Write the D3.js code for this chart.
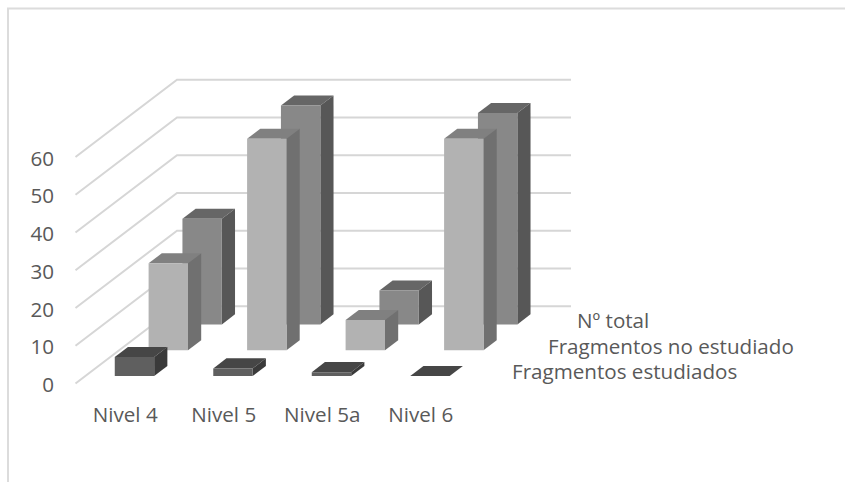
<!DOCTYPE html>
<html>
<head>
<meta charset="utf-8">
<script src="https://cdnjs.cloudflare.com/ajax/libs/d3/7.8.5/d3.min.js"></script>
<style>
html,body{margin:0;padding:0;background:#fff}
svg{display:block}
text{font-family:"Open Sans",sans-serif;fill:#595959}
</style>
</head>
<body>
<svg id="chart" width="845" height="482"></svg>
<script>
// Bar values by level, one list per series
const categories = ["Nivel 4", "Nivel 5", "Nivel 5a", "Nivel 6"];
const seriesNames = ["Fragmentos estudiados", "Fragmentos no estudiado", "Nº total"];
const estudiados = [5, 2, 1, 0];
const noEstudiados = [23, 56, 8, 56];
const total = [28, 58, 9, 56];
const valueTicks = [0, 10, 20, 30, 40, 50, 60];

const seriesValues = [estudiados, noEstudiados, total];
// front, top, side shades of each series
const seriesShades = [
  ["#5f5f5f", "#464646", "#3a3a3a"],
  ["#b2b2b2", "#808080", "#707070"],
  ["#888888", "#666666", "#575757"]
];
const labelSize = 20.6;

const svg = d3.select("#chart");

// chart frame: only top and left edges are in view
svg.append("path").attr("d", "M8,482V8.5H845")
  .attr("fill", "none").attr("stroke", "#dcdcdc").attr("stroke-width", 2);

// oblique projection: x along categories, y up the wall, depth back from the front edge
const floorX0 = 75.5, floorWidth = 394, floorY = 383.5;
const depthX = 101.5, depthY = -77.3;
const x = d3.scaleBand().domain(categories).range([floorX0, floorX0 + floorWidth]);
const y = d3.scaleLinear().domain([0, 60]).range([floorY, floorY - 226.5]);
const depth = d3.scaleBand().domain(seriesNames).range([0, 1]);

const barWidth = x.bandwidth() * 0.4;
const barDepth = depth.bandwidth() * 0.39;
const project = (px, py, d) => [px + d * depthX, py + d * depthY];
const poly = pts => "M" + pts.map(p => p.join(",")).join("L") + "Z";

// gridlines run across the floor side, then along the back wall
const grid = svg.append("g").attr("fill", "none").attr("stroke", "#d6d6d6").attr("stroke-width", 2);
valueTicks.forEach(t => {
  const a = project(floorX0, y(t), 0), b = project(floorX0, y(t), 1), c = project(floorX0 + floorWidth, y(t), 1);
  grid.append("path").attr("d", "M" + [a, b, c].map(p => p.join(",")).join("L"));
});

// value axis labels
svg.append("g").selectAll("text").data(valueTicks).join("text")
  .attr("x", 54).attr("y", d => y(d))
  .attr("dy", "0.42em").attr("text-anchor", "end")
  .attr("font-size", labelSize).text(d => d);

// back series first so nearer bars overlap it
const seriesOrder = d3.range(seriesNames.length).reverse();
seriesOrder.forEach(s => {
  const g = svg.append("g").attr("transform", "translate(-0.6,0.3)");
  const d0 = depth(seriesNames[s]) + (depth.bandwidth() - barDepth) / 2;
  const d1 = d0 + barDepth;
  categories.forEach((c, i) => {
    const v = seriesValues[s][i];
    const xl = x(c) + x.bandwidth() * 0.3, xr = xl + barWidth;
    const yb = y(0), yt = y(v);
    const [front, top, side] = seriesShades[s];
    g.append("path").attr("fill", top).attr("d", poly([
      project(xl, yt, d0), project(xr, yt, d0), project(xr, yt, d1), project(xl, yt, d1)]));
    g.append("path").attr("fill", side).attr("d", poly([
      project(xr, yb, d0), project(xr, yt, d0), project(xr, yt, d1), project(xr, yb, d1)]));
    g.append("path").attr("fill", front).attr("d", poly([
      project(xl, yb, d0), project(xr, yb, d0), project(xr, yt, d0), project(xl, yt, d0)]));
  });
});

// category labels under the front edge
svg.append("g").selectAll("text").data(categories).join("text")
  .attr("x", d => x(d) + x.bandwidth() / 2 + 0.5)
  .attr("y", 422).attr("text-anchor", "middle")
  .attr("font-size", labelSize).text(d => d);

// series names follow the depth axis on the right
const seriesLabelX = [512, 548, 577];
const seriesLabelY = [379, 354, 328];
svg.append("g").selectAll("text").data(seriesNames).join("text")
  .attr("x", (d, i) => seriesLabelX[i]).attr("y", (d, i) => seriesLabelY[i])
  .attr("font-size", labelSize).text(d => d);
</script>
</body>
</html>
